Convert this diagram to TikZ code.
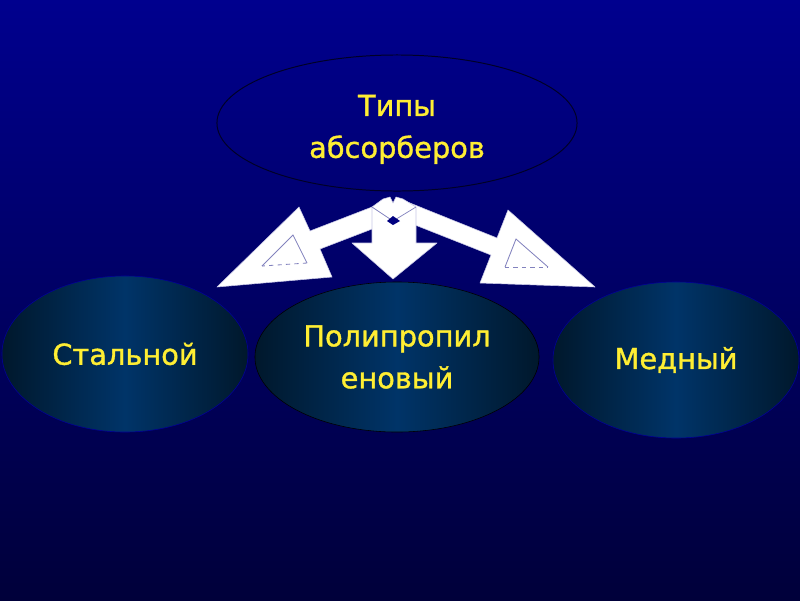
\documentclass[tikz,border=0pt]{standalone}
\usepackage{fontspec}
\setmainfont{DejaVu Sans}
\newfontfamily\labelfont{DejaVu Sans}[FakeBold=1.2]
\usepackage{tikz}
\usetikzlibrary{
  shapes.geometric,%
  positioning
}
\definecolor{bgTop}{RGB}{0,0,142}
\definecolor{bgBottom}{RGB}{0,0,58}
\definecolor{ellEdge}{RGB}{0,24,44}
\definecolor{ellMid}{RGB}{0,52,104}
\definecolor{txtYellow}{RGB}{255,238,51}
\definecolor{arrowEdge}{RGB}{200,200,230}
\definecolor{triEdge}{RGB}{130,130,190}
\tikzset{x=0.025cm, y=-0.025cm}
\tikzset{every node/.style={font=\labelfont\fontsize{20.5}{29.8}\selectfont,
    text=txtYellow, align=center}}
\tikzset{typebox/.style={ellipse, inner sep=0pt, shade, left color=ellEdge,
    right color=ellEdge, middle color=ellMid}}
\tikzset{blockarrow/.style={fill=white, draw=arrowEdge, line width=0.4pt, line join=round}}
\tikzset{innertri/.style={draw=triEdge, line width=0.6pt}}

\begin{document}
\begin{tikzpicture}
  \useasboundingbox (0,0) rectangle (800,600);
  \shade[top color=bgTop, bottom color=bgBottom] (0,0) rectangle (800,600);

  \node[ellipse, draw=black!85!blue, line width=0.7pt, minimum width=9cm, minimum height=3.4cm]
    (types) at (397,123) {\rule{0pt}{24pt}Типы\\абсорберов};
  \node[typebox, draw=blue!60!black, minimum width=6.15cm, minimum height=3.9cm]
    (steel) at (125,354) {Стальной};
  \node[typebox, draw=black, minimum width=7.1cm, minimum height=3.75cm]
    (poly) at (397,357) {Полипропил\\еновый};
  \node[typebox, draw=blue!60!black, minimum width=6.15cm, minimum height=3.9cm]
    (copper) at (676,360) {Медный};

  % block arrows
  \draw[blockarrow] (385,202) -- (310,231) -- (299,207) -- (217,287) -- (332,277)
    -- (320,249) -- (385,224) -- cycle;
  \draw[blockarrow] (400,199) -- (497,238) -- (508,210) -- (595,287) -- (480,283)
    -- (491,255) -- (400,219) -- cycle;
  \draw[blockarrow] (372,207) -- (383,199) -- (390,197) -- (393,203) -- (396,197)
    -- (403,199) -- (416,207) -- (416,243) -- (437,243) -- (393,279) -- (352,243)
    -- (372,243) -- cycle;
  \draw[draw=triEdge, line width=0.5pt] (372,207) -- (393,221) -- (416,207);
  \fill[bgTop!90!black] (387,221) -- (393,216) -- (400,221) -- (393,225) -- cycle;

  % small triangles in the heads
  \draw[innertri] (262,266) -- (293,235) -- (307,263);
  \draw[innertri, dashed] (307,263) -- (262,266);
  \draw[innertri] (548,267) -- (516,239) -- (505,267);
  \draw[innertri, dashed] (505,267) -- (548,267);
\end{tikzpicture}
\end{document}
